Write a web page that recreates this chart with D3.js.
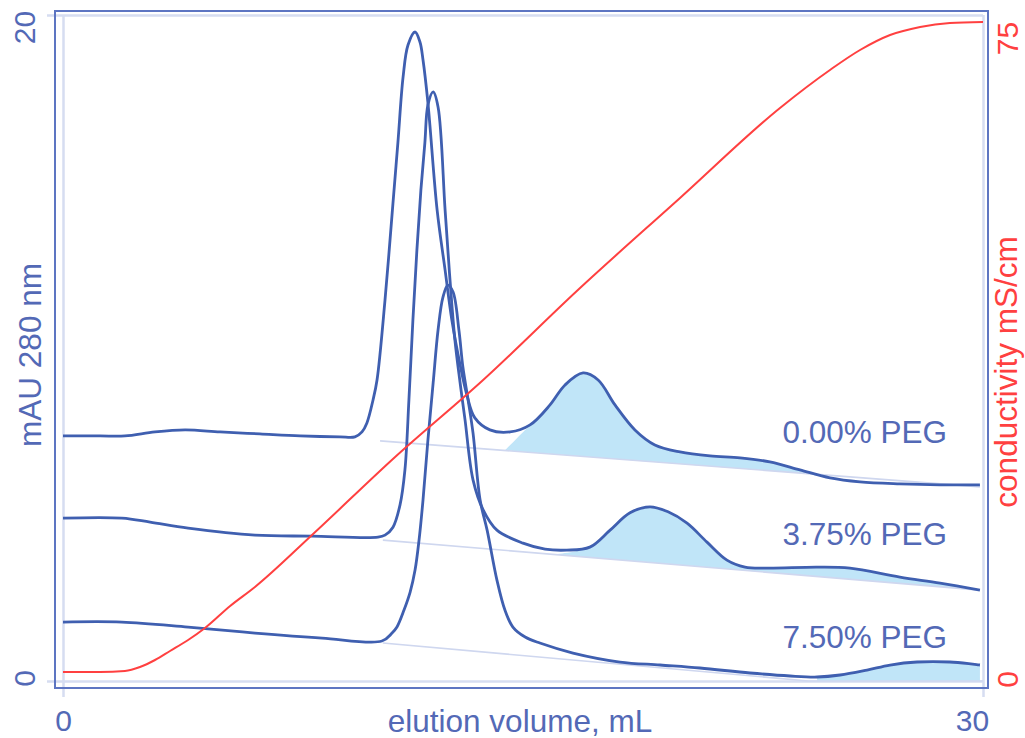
<!DOCTYPE html>
<html><head><meta charset="utf-8">
<script src="https://cdn.jsdelivr.net/npm/d3@7"></script>
<style>
body{margin:0;background:#fff;}
svg{display:block;font-family:"Liberation Sans",Arial,sans-serif;}
</style></head><body>
<svg id="chart" width="1025" height="738"></svg>
<script>
// ---- data ----
const xTicks = [0, 30];
const leftTicks = [0, 20];
const rightTicks = [0, 75];
const traceLabels = ["0.00% PEG", "3.75% PEG", "7.50% PEG"];
const labelAnchors = [[28.83, 7.15], [28.83, 4.08], [28.83, 0.99]];

// [elution volume mL, mAU]
const peg000 = [[0,7.36],[1.21,7.36],[2.02,7.36],[3.00,7.48],[3.98,7.54],[5.12,7.48],[6.42,7.42],[7.73,7.36],[9.03,7.33],[9.52,7.33],[9.75,7.48],[9.91,7.75],[10.11,8.44],[10.24,9.04],[10.50,11.44],[10.76,14.35],[10.92,16.16],[11.09,18.14],[11.25,19.10],[11.48,19.49],[11.64,19.19],[11.74,18.65],[11.90,17.36],[12.20,14.14],[12.46,12.34],[12.68,10.84],[12.95,9.49],[13.17,8.59],[13.43,7.90],[13.92,7.54],[14.58,7.48],[15.23,7.69],[15.88,8.29],[16.37,8.89],[16.96,9.25],[17.45,9.04],[18.00,8.29],[18.65,7.54],[19.30,7.09],[20.12,6.88],[21.10,6.76],[22.08,6.70],[23.05,6.58],[24.03,6.34],[25.01,6.10],[25.99,5.98],[27.29,5.92],[28.60,5.89],[29.90,5.89]];
const peg375 = [[0,4.89],[1.92,4.89],[2.84,4.77],[4.08,4.59],[6.26,4.38],[8.12,4.35],[10.27,4.32],[10.50,4.38],[10.76,4.62],[10.99,5.29],[11.15,6.34],[11.28,8.44],[11.41,10.84],[11.54,12.94],[11.67,14.74],[11.80,16.16],[11.90,17.30],[12.07,17.69],[12.23,17.24],[12.46,14.14],[12.62,12.04],[12.78,10.24],[12.95,8.95],[13.11,7.84],[13.37,6.04],[13.70,5.14],[14.15,4.53],[15.00,4.14],[15.72,3.96],[16.43,3.93],[17.18,4.02],[17.84,4.53],[18.49,5.05],[19.14,5.23],[19.73,5.08],[20.35,4.74],[21.00,4.17],[21.65,3.63],[22.24,3.42],[22.96,3.39],[24.59,3.42],[25.66,3.39],[27.29,3.12],[28.60,2.94],[29.90,2.73]];
const peg750 = [[0,1.77],[1.92,1.77],[4.08,1.62],[6.26,1.44],[8.45,1.29],[10.40,1.20],[10.73,1.44],[10.89,1.62],[11.12,2.13],[11.32,2.67],[11.48,3.33],[11.61,4.23],[11.74,5.44],[11.90,7.24],[12.07,8.95],[12.23,10.54],[12.39,11.53],[12.55,11.89],[12.72,11.68],[12.91,10.54],[13.04,9.43],[13.21,8.44],[13.37,7.45],[13.60,5.44],[13.83,4.53],[14.15,3.03],[14.41,2.13],[14.67,1.62],[15.07,1.32],[15.55,1.14],[16.63,0.84],[18.16,0.57],[19.47,0.48],[20.77,0.39],[22.40,0.24],[23.71,0.15],[24.59,0.12],[25.34,0.18],[26.22,0.33],[26.97,0.48],[27.85,0.57],[28.92,0.57],[29.90,0.48]];

// peak baselines [mL, mAU]
const base000 = [[10.34,7.21],[29.90,5.83]];
const base375 = [[10.43,4.23],[29.90,2.73]];
const base750 = [[10.43,1.14],[24.30,0],[30,0]];

// shaded peak ranges [fill start, trace start] in mL
const shade000 = [14.41, 15.23];
const shade375 = [15.98, 17.18];
const shade750 = [24.59, 24.59];

// [elution volume mL, conductivity mS/cm]
const conductivity = [[0,1.05],[1.21,1.05],[2.02,1.17],[2.51,1.63],[3.00,2.45],[3.49,3.50],[4.08,4.78],[4.63,6.18],[5.45,8.75],[6.26,10.97],[8.12,17.03],[10.83,26.13],[13.70,35.11],[16.86,45.84],[20.12,56.34],[23.38,66.84],[25.01,71.27],[25.99,73.60],[26.97,75.35],[27.95,76.29],[28.92,76.75],[30.00,76.87]];

// ---- drawing ----
const svg = d3.select("#chart");
const blue = "#3f5fb0", textBlue = "#5369b6", red = "#ff4040";
const light = "#d6ddf1", frame = "#5d75c2", fillC = "#c0e5f8";
const FS = 31.5, TFS = 30;

const x = d3.scaleLinear().domain([0, 30]).range([63, 983]);
const yL = d3.scaleLinear().domain([0, 20]).range([681, 15]);
const yR = d3.scaleLinear().domain([0, 75]).range([681, 38]);

// gridlines/ticks
const gx = svg.append("g").attr("transform", "translate(0,697)")
  .call(d3.axisBottom(x).tickValues(xTicks).tickSize(-682).tickPadding(13).tickFormat(d3.format("d")));
const gl = svg.append("g").attr("transform", "translate(47,0)")
  .call(d3.axisLeft(yL).tickValues(leftTicks).tickSize(-936).tickFormat(d3.format("d")));
const gr = svg.append("g").attr("transform", "translate(988,0)")
  .call(d3.axisRight(yR).tickValues(rightTicks).tickSize(0).tickFormat(d3.format("d")));
[gx, gl, gr].forEach(g => {
  g.select(".domain").remove();
  g.selectAll("line").attr("stroke", light).attr("stroke-width", 2.5);
  g.selectAll("text").attr("font-size", TFS).attr("font-family", "Liberation Sans, Arial, sans-serif");
});
gx.selectAll("text").attr("fill", textBlue).attr("dx", d => d === 30 ? -11 : 0);
gl.selectAll("text").attr("fill", textBlue).attr("x", null).attr("dy", null)
  .attr("text-anchor", "middle")
  .attr("transform", d => `translate(-12,${d === 20 ? 12 : -3}) rotate(-90)`);
gr.selectAll("text").attr("fill", red).attr("x", null).attr("dy", null)
  .attr("text-anchor", "middle")
  .attr("transform", d => `translate(30,${d === 0 ? -2 : 0}) rotate(-90)`);

// frame
svg.append("rect").attr("x", 55).attr("y", 11).attr("width", 933).attr("height", 677)
  .attr("fill", "none").attr("stroke", frame).attr("stroke-width", 2);

const interp = (pts, v) => {
  if (v <= pts[0][0]) return pts[0][1];
  for (let i = 1; i < pts.length; i++) {
    if (v <= pts[i][0]) {
      const t = (v - pts[i-1][0]) / (pts[i][0] - pts[i-1][0]);
      return pts[i-1][1] + t * (pts[i][1] - pts[i-1][1]);
    }
  }
  return pts[pts.length-1][1];
};

const traces = [
  {data: peg000, base: base000, shade: shade000},
  {data: peg375, base: base375, shade: shade375},
  {data: peg750, base: base750, shade: shade750}
];

const smooth = d3.curveCatmullRom.alpha(0.5);

// shaded areas
const area = d3.area().x(d => x(d.v)).y0(d => yL(d.b)).y1(d => yL(d.t)).curve(smooth);
traces.forEach(tr => {
  const pts = [];
  const b0 = interp(tr.base, tr.shade[0]);
  if (tr.shade[0] < tr.shade[1]) pts.push({v: tr.shade[0], b: b0, t: b0});
  tr.data.filter(d => d[0] >= tr.shade[1]).forEach(d => {
    const b = interp(tr.base, d[0]);
    pts.push({v: d[0], b: Math.min(b, d[1]), t: d[1]});
  });
  svg.append("path").attr("d", area(pts)).attr("fill", fillC).attr("stroke", "none");
});

// baselines
const bline = d3.line().x(d => x(d[0])).y(d => yL(d[1]));
traces.forEach(tr => {
  svg.append("path").attr("d", bline(tr.base)).attr("fill", "none")
    .attr("stroke", "#cfd7ef").attr("stroke-width", 1.6);
});

// traces
const line = d3.line().x(d => x(d[0])).y(d => yL(d[1])).curve(smooth);
traces.forEach(tr => {
  svg.append("path").attr("d", line(tr.data)).attr("fill", "none")
    .attr("stroke", blue).attr("stroke-width", 2.8).attr("stroke-linejoin", "round");
});

// conductivity
const rline = d3.line().x(d => x(d[0])).y(d => yR(d[1])).curve(d3.curveMonotoneX);
svg.append("path").attr("d", rline(conductivity)).attr("fill", "none")
  .attr("stroke", red).attr("stroke-width", 2);

// trace labels
svg.selectAll(".tl").data(traceLabels).enter().append("text")
  .attr("x", (d, i) => x(labelAnchors[i][0])).attr("y", (d, i) => yL(labelAnchors[i][1]))
  .attr("text-anchor", "end").attr("font-size", FS).attr("fill", textBlue).text(d => d);

// axis titles
svg.append("text").attr("x", 520).attr("y", 732).attr("text-anchor", "middle")
  .attr("font-size", FS).attr("fill", textBlue).text("elution volume, mL");
svg.append("text").attr("transform", "translate(41,355) rotate(-90)").attr("text-anchor", "middle")
  .attr("font-size", FS).attr("fill", textBlue).text("mAU 280 nm");
svg.append("text").attr("transform", "translate(1017,372) rotate(-90)").attr("text-anchor", "middle")
  .attr("font-size", FS).attr("fill", red).text("conductivity mS/cm");
</script>
</body></html>
